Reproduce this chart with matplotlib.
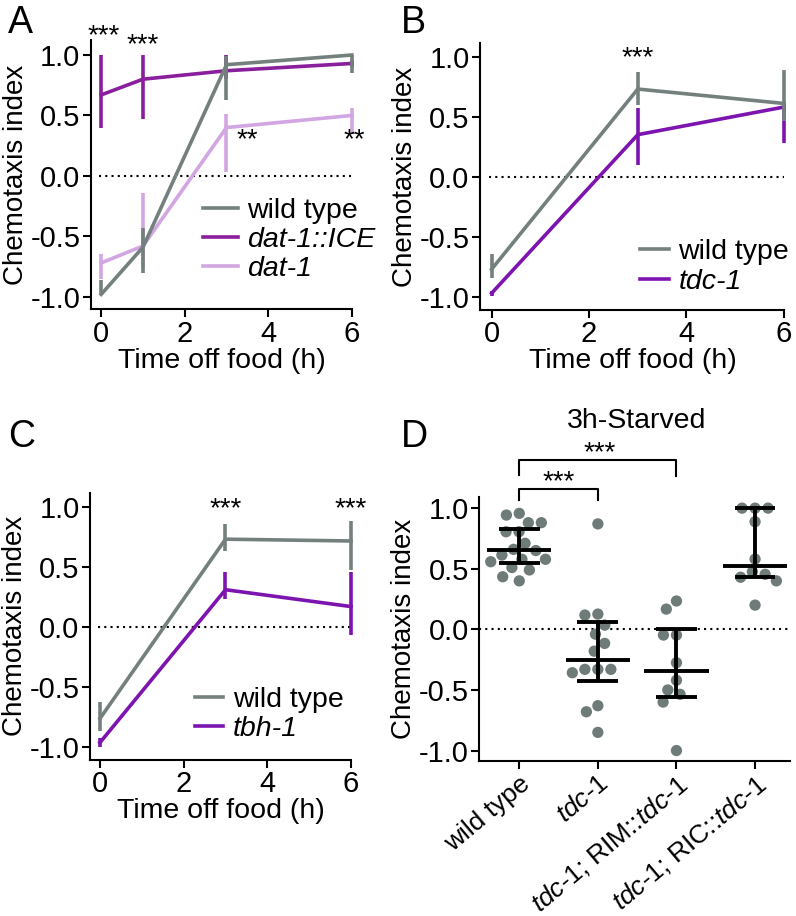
import matplotlib
matplotlib.use("Agg")
import matplotlib.pyplot as plt
import numpy as np

plt.rcParams['font.family'] = ['Liberation Sans', 'DejaVu Sans']
plt.rcParams['mathtext.fontset'] = 'custom'
plt.rcParams['mathtext.it'] = 'Liberation Sans:italic'
plt.rcParams['mathtext.rm'] = 'Liberation Sans'

# colores
GRIS = '#74807e'
MORADO = '#8a1f9e'
MORADO_B = '#7d14b0'
LILA = '#d2a6e2'
PUNTO = '#6e7b79'

# ---- Panel A ----
horas_a = [0, 1, 3, 6]
wt_a = [-0.98, -0.59, 0.92, 1.0]
wt_a_lo = [-0.98, -0.80, 0.63, 0.85]
wt_a_hi = [-0.86, -0.43, 0.99, 1.0]
ice_a = [0.67, 0.80, 0.87, 0.93]
ice_a_lo = [0.40, 0.47, 0.80, 0.90]
ice_a_hi = [1.0, 1.0, 1.0, 0.96]
dat_a = [-0.72, -0.58, 0.40, 0.50]
dat_a_lo = [-0.85, -0.75, 0.03, 0.35]
dat_a_hi = [-0.65, -0.14, 0.51, 0.56]

# ---- Panel B / C ----
horas_bc = [0, 3, 6]
wt_b = [-0.77, 0.73, 0.61]
wt_b_lo = [-0.84, 0.60, 0.46]
wt_b_hi = [-0.64, 0.87, 0.89]
tdc_b = [-0.97, 0.35, 0.58]
tdc_b_lo = [-0.99, 0.10, 0.28]
tdc_b_hi = [-0.95, 0.57, 0.62]

wt_c = [-0.76, 0.73, 0.715]
wt_c_lo = [-0.86, 0.63, 0.47]
wt_c_hi = [-0.62, 0.86, 0.88]
tbh_c = [-0.96, 0.31, 0.17]
tbh_c_lo = [-1.0, 0.23, -0.07]
tbh_c_hi = [-0.92, 0.46, 0.46]

# ---- Panel D ----
grupos_d = ['wild type',
            r'$\it{tdc}$-$\it{1}$',
            r'$\it{tdc}$-$\it{1}$; RIM::$\it{tdc}$-$\it{1}$',
            r'$\it{tdc}$-$\it{1}$; RIC::$\it{tdc}$-$\it{1}$']
pts_wt = [0.957, 0.943, 0.88, 0.88, 0.805, 0.805, 0.71, 0.66, 0.65, 0.613,
          0.578, 0.558, 0.578, 0.49, 0.51, 0.40, 0.434]
pts_tdc = [0.87, 0.126, 0.118, 0.035, -0.04, -0.116, -0.18, -0.33, -0.358,
           -0.33, -0.33, -0.63, -0.68, -0.85]
pts_rim = [0.234, 0.167, -0.047, -0.047, -0.275, -0.42, -0.536, -0.50, -0.60, -1.0]
pts_ric = [1.0, 1.0, 1.0, 0.888, 0.58, 0.475, 0.43, 0.40, 0.454, 0.20]
med_d = [0.654, -0.253, -0.347, 0.525]
lo_d = [0.55, -0.427, -0.556, 0.43]
hi_d = [0.825, 0.06, 0.005, 1.0]

FS_TICK = 21
FS_LAB = 20
FS_LEG = 20.5
FS_STAR = 20


def estilo(ax):
    for s in ['top', 'right']:
        ax.spines[s].set_visible(False)
    for s in ['left', 'bottom']:
        ax.spines[s].set_linewidth(1.5)
    ax.tick_params(direction='out', length=6, width=1.5, labelsize=FS_TICK, pad=1.5)
    ax.set_yticks([-1.0, -0.5, 0.0, 0.5, 1.0])
    ax.set_yticklabels(['-1.0', '-0.5', '0.0', '0.5', '1.0'])


def serie(ax, x, y, lo, hi, color):
    ax.vlines(x, lo, hi, color=color, linewidth=2.6, clip_on=False)
    ax.plot(x, y, color=color, linewidth=2.6, clip_on=False)


def curso(ax, xlim, ylim):
    estilo(ax)
    ax.set_xlim(*xlim)
    ax.set_ylim(*ylim)
    ax.set_xticks([0, 2, 4, 6])
    ax.spines['bottom'].set_bounds(xlim[0], 6)
    ax.hlines(0, -0.05, 6, color='black', linestyle=(0, (1, 2)), linewidth=1.5)
    ax.set_xlabel('Time off food (h)', fontsize=FS_LAB + 0.5, labelpad=0)
    ax.set_ylabel('Chemotaxis index', fontsize=FS_LAB, labelpad=1)


def leyenda(ax, colores, nombres, ancla, largo):
    hs = [plt.Line2D([], [], color=c, lw=2.6) for c in colores]
    leg = ax.legend(hs, nombres, loc='upper left', bbox_to_anchor=ancla, frameon=False,
                    fontsize=FS_LEG, handlelength=largo, handletextpad=0.35,
                    labelspacing=0.12, borderpad=0, borderaxespad=0)
    for t in leg.get_texts()[1:]:
        t.set_fontstyle('italic')


def enjambre(ax, xc, vals, diam):
    # acomoda los puntos tipo "beeswarm" en pixeles
    tr = ax.transData
    p = tr.transform(np.column_stack([np.full(len(vals), xc), vals]))
    ys = p[:, 1]
    x0 = p[0, 0]
    xs = np.zeros(len(vals))
    puestos = []
    for i in np.argsort(-ys):
        y = ys[i]
        cands = [0.0]
        for px, py in puestos:
            dy = y - py
            if abs(dy) < diam:
                dx = np.sqrt(diam ** 2 - dy ** 2)
                cands += [px + dx, px - dx]
        cands = sorted(cands, key=lambda c: (abs(c), c))
        for c in cands:
            if all((c - px) ** 2 + (y - py) ** 2 >= diam ** 2 - 1e-6 for px, py in puestos):
                break
        xs[i] = c
        puestos.append((c, y))
    back = tr.inverted().transform(np.column_stack([x0 + xs, ys]))
    return back[:, 0]


fig = plt.figure(figsize=(7.96, 9.16), dpi=100)

# Panel A
axA = fig.add_axes([0.114, 0.6623, 0.329, 0.294])
curso(axA, (-0.25, 6.02), (-1.104, 1.124))
serie(axA, horas_a, dat_a, dat_a_lo, dat_a_hi, LILA)
serie(axA, horas_a, ice_a, ice_a_lo, ice_a_hi, MORADO)
serie(axA, horas_a, wt_a, wt_a_lo, wt_a_hi, GRIS)
leyenda(axA, [GRIS, MORADO, LILA], ['wild type', 'dat-1::ICE', 'dat-1'], (0.43, 0.415), 1.2)
axA.text(0.05, 1.05, '***', fontsize=FS_STAR, ha='center', va='bottom', clip_on=False)
axA.text(1.0, 0.97, '***', fontsize=FS_STAR, ha='center', va='bottom', clip_on=False)
axA.text(3.5, 0.19, '**', fontsize=FS_STAR, ha='center', va='bottom')
axA.text(6.05, 0.19, '**', fontsize=FS_STAR, ha='center', va='bottom', clip_on=False)

# Panel B
axB = fig.add_axes([0.603, 0.6616, 0.383, 0.291])
curso(axB, (-0.24, 6.02), (-1.11, 1.11))
serie(axB, horas_bc, tdc_b, tdc_b_lo, tdc_b_hi, MORADO_B)
serie(axB, horas_bc, wt_b, wt_b_lo, wt_b_hi, GRIS)
leyenda(axB, [GRIS, MORADO_B], ['wild type', 'tdc-1'], (0.525, 0.265), 1.0)
axB.text(3.0, 0.88, '***', fontsize=FS_STAR, ha='center', va='bottom')

# Panel C
axC = fig.add_axes([0.113, 0.1703, 0.329, 0.2918])
curso(axC, (-0.24, 6.02), (-1.105, 1.116))
serie(axC, horas_bc, tbh_c, tbh_c_lo, tbh_c_hi, MORADO_B)
serie(axC, horas_bc, wt_c, wt_c_lo, wt_c_hi, GRIS)
leyenda(axC, [GRIS, MORADO_B], ['wild type', 'tbh-1'], (0.40, 0.275), 1.0)
axC.text(3.0, 0.87, '***', fontsize=FS_STAR, ha='center', va='bottom')
axC.text(6.0, 0.87, '***', fontsize=FS_STAR, ha='center', va='bottom', clip_on=False)

# Panel D
axD = fig.add_axes([0.602, 0.1695, 0.39, 0.2882])
estilo(axD)
axD.set_xlim(-0.51, 3.44)
axD.set_ylim(-1.084, 1.094)
axD.axhline(0, color='black', linestyle=(0, (1, 2)), linewidth=1.5)
posiciones = np.arange(len(grupos_d))
for i, vals in enumerate([pts_wt, pts_tdc, pts_rim, pts_ric]):
    xs = enjambre(axD, posiciones[i], vals, 13.0)
    axD.scatter(xs, vals, s=66, color=PUNTO, edgecolors='none', zorder=2, clip_on=False)
axD.hlines(med_d, posiciones - 0.41, posiciones + 0.41, color='black', lw=2.8, zorder=3)
axD.hlines(lo_d, posiciones - 0.26, posiciones + 0.26, color='black', lw=2.8, zorder=3)
axD.hlines(hi_d, posiciones - 0.26, posiciones + 0.26, color='black', lw=2.8, zorder=3)
axD.vlines(posiciones, lo_d, hi_d, color='black', lw=2.8, zorder=3)
axD.set_xticks(posiciones)
axD.set_xticklabels(grupos_d, rotation=40, ha='right', rotation_mode='anchor', fontsize=19)
axD.set_ylabel('Chemotaxis index', fontsize=FS_LAB, labelpad=1)
fig.text(0.80, 1 - 421 / 916, '3h-Starved', fontsize=FS_LAB + 0.5, ha='center', va='center')
# barras de significancia
axD.plot([0, 0, 1, 1], [1.067, 1.16, 1.16, 1.067], color='black', lw=1.5, clip_on=False)
axD.plot([0, 0, 2, 2], [1.27, 1.40, 1.40, 1.265], color='black', lw=1.5, clip_on=False)
axD.text(0.5, 1.105, '***', fontsize=FS_STAR, ha='center', va='bottom', clip_on=False)
axD.text(1.02, 1.35, '***', fontsize=FS_STAR, ha='center', va='bottom', clip_on=False)

# letras de panel
for letra, x, y in [('A', 0.010, 0.955), ('B', 0.503, 0.955),
                    ('C', 0.010, 0.503), ('D', 0.503, 0.503)]:
    fig.text(x, y, letra, fontsize=27, ha='left', va='bottom')

fig.savefig('out.png', dpi=100)
